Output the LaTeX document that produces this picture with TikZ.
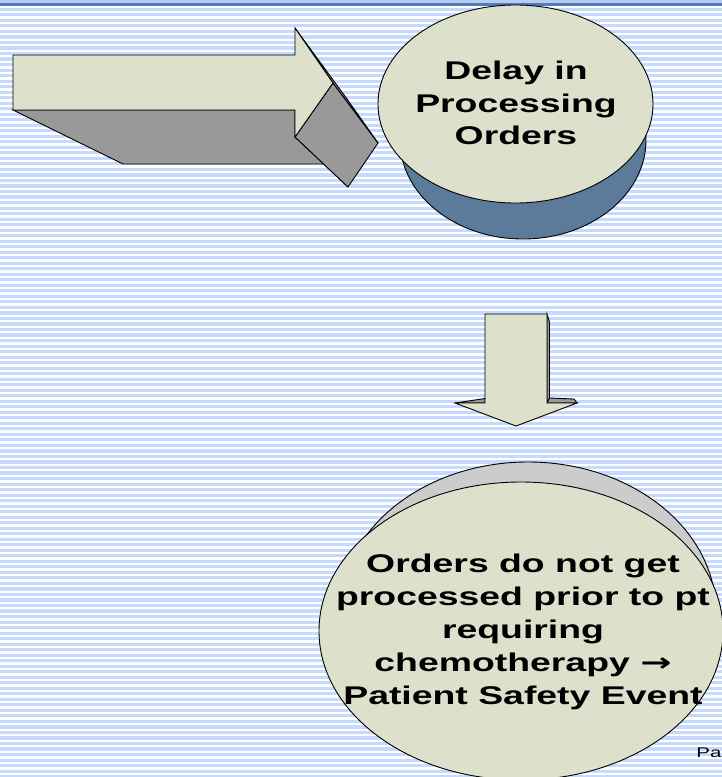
\documentclass[tikz,border=0pt]{standalone}
\usepackage{fontspec}
\setmainfont{Liberation Sans}
\newfontfamily\slidefont[FakeStretch=1.46]{Liberation Sans}
\newfontfamily\arrowfont[FakeStretch=1.46]{DejaVu Sans}
\newlength{\du}
\setlength{\du}{1\unitlength}
\begin{document}
\begin{tikzpicture}
\pgftransformxscale{1.000000}
\pgftransformyscale{-1.000000}
\useasboundingbox (0\du,0\du) rectangle (722\du,777\du);
\clip (0\du,0\du) rectangle (722\du,777\du);
% slide background
\definecolor{dialinecolor}{rgb}{1.000000, 1.000000, 1.000000}
\pgfsetfillcolor{dialinecolor}
\fill (0\du,0\du)--(0\du,777\du)--(722\du,777\du)--(722\du,0\du)--cycle;
\definecolor{dialinecolor}{rgb}{0.776471, 0.850980, 1.000000}
\pgfsetfillcolor{dialinecolor}
\foreach \n in {0,...,140}{
\fill (0\du,{(7.800000+\n*5.520000)*\du}) rectangle (722\du,{(10.900000+\n*5.520000)*\du});
}
\definecolor{dialinecolor}{rgb}{0.725490, 0.800000, 0.921569}
\pgfsetfillcolor{dialinecolor}
\fill (0\du,0\du)--(0\du,3.300000\du)--(722\du,3.300000\du)--(722\du,0\du)--cycle;
\definecolor{dialinecolor}{rgb}{0.309804, 0.486275, 0.756863}
\pgfsetfillcolor{dialinecolor}
\fill (0\du,3.300000\du)--(0\du,5.700000\du)--(722\du,5.700000\du)--(722\du,3.300000\du)--cycle;
% block arrow, back faces
\pgfsetlinewidth{0.900000\du}
\pgfsetdash{}{0pt}
\pgfsetmiterjoin
\definecolor{dialinecolor}{rgb}{0.000000, 0.000000, 0.000000}
\pgfsetstrokecolor{dialinecolor}
\definecolor{dialinecolor}{rgb}{0.600000, 0.600000, 0.600000}
\pgfsetfillcolor{dialinecolor}
\fill (13.000000\du,110.000000\du)--(295.000000\du,110.000000\du)--(347.000000\du,164.000000\du)--(123.000000\du,164.000000\du)--cycle;
\draw (13.000000\du,110.000000\du)--(295.000000\du,110.000000\du)--(347.000000\du,164.000000\du)--(123.000000\du,164.000000\du)--cycle;
\fill (295.000000\du,110.000000\du)--(295.000000\du,137.000000\du)--(347.000000\du,186.000000\du)--(347.000000\du,164.000000\du)--cycle;
\draw (295.000000\du,110.000000\du)--(295.000000\du,137.000000\du)--(347.000000\du,186.000000\du)--(347.000000\du,164.000000\du)--cycle;
\fill (295.000000\du,137.000000\du)--(333.000000\du,83.000000\du)--(378.000000\du,143.000000\du)--(348.000000\du,187.000000\du)--cycle;
\draw (295.000000\du,137.000000\du)--(333.000000\du,83.000000\du)--(378.000000\du,143.000000\du)--(348.000000\du,187.000000\du)--cycle;
\fill (295.000000\du,28.000000\du)--(333.000000\du,83.000000\du)--(378.000000\du,143.000000\du)--(347.000000\du,99.000000\du)--cycle;
\draw (295.000000\du,28.000000\du)--(333.000000\du,83.000000\du)--(378.000000\du,143.000000\du)--(347.000000\du,99.000000\du)--cycle;
% block arrow, front face
\definecolor{dialinecolor}{rgb}{0.866667, 0.878431, 0.796078}
\pgfsetfillcolor{dialinecolor}
\fill (13.000000\du,55.000000\du)--(295.000000\du,55.000000\du)--(295.000000\du,28.000000\du)--(333.000000\du,83.000000\du)--(295.000000\du,137.000000\du)--(295.000000\du,110.000000\du)--(13.000000\du,110.000000\du)--cycle;
\draw (13.000000\du,55.000000\du)--(295.000000\du,55.000000\du)--(295.000000\du,28.000000\du)--(333.000000\du,83.000000\du)--(295.000000\du,137.000000\du)--(295.000000\du,110.000000\du)--(13.000000\du,110.000000\du)--cycle;
% upper cylinder
\definecolor{dialinecolor}{rgb}{0.360784, 0.482353, 0.607843}
\pgfsetfillcolor{dialinecolor}
\pgfpathellipse{\pgfpoint{523.000000\du}{140.000000\du}}{\pgfpoint{123.000000\du}{0\du}}{\pgfpoint{0\du}{99.000000\du}}
\pgfusepath{fill,stroke}
\definecolor{dialinecolor}{rgb}{0.866667, 0.878431, 0.796078}
\pgfsetfillcolor{dialinecolor}
\pgfpathellipse{\pgfpoint{515.500000\du}{104.000000\du}}{\pgfpoint{137.500000\du}{0\du}}{\pgfpoint{0\du}{99.000000\du}}
\pgfusepath{fill,stroke}
% setfont left to latex
\definecolor{dialinecolor}{rgb}{0.000000, 0.000000, 0.000000}
\pgfsetstrokecolor{dialinecolor}
\node[align=center,inner sep=0pt,font=\slidefont\bfseries\fontsize{25.6}{32.7}\selectfont] (delaytext) at (516.000000\du,103.000000\du){Delay in\\Processing\\Orders};
% down arrow
\definecolor{dialinecolor}{rgb}{0.600000, 0.600000, 0.600000}
\pgfsetfillcolor{dialinecolor}
\fill (547.000000\du,314.000000\du)--(549.500000\du,322.000000\du)--(549.500000\du,398.000000\du)--(547.000000\du,403.000000\du)--cycle;
\draw (547.000000\du,314.000000\du)--(549.500000\du,322.000000\du)--(549.500000\du,398.000000\du)--(547.000000\du,403.000000\du)--cycle;
\fill (547.000000\du,403.000000\du)--(549.500000\du,398.000000\du)--(574.000000\du,399.000000\du)--(577.000000\du,403.000000\du)--cycle;
\draw (547.000000\du,403.000000\du)--(549.500000\du,398.000000\du)--(574.000000\du,399.000000\du)--(577.000000\du,403.000000\du)--cycle;
\fill (455.000000\du,403.000000\du)--(485.000000\du,398.500000\du)--(485.000000\du,403.000000\du)--cycle;
\draw (455.000000\du,403.000000\du)--(485.000000\du,398.500000\du)--(485.000000\du,403.000000\du)--cycle;
\definecolor{dialinecolor}{rgb}{0.866667, 0.878431, 0.796078}
\pgfsetfillcolor{dialinecolor}
\fill (485.000000\du,314.000000\du)--(547.000000\du,314.000000\du)--(547.000000\du,403.000000\du)--(577.000000\du,403.000000\du)--(516.000000\du,426.000000\du)--(455.000000\du,403.000000\du)--(485.000000\du,403.000000\du)--cycle;
\draw (485.000000\du,314.000000\du)--(547.000000\du,314.000000\du)--(547.000000\du,403.000000\du)--(577.000000\du,403.000000\du)--(516.000000\du,426.000000\du)--(455.000000\du,403.000000\du)--(485.000000\du,403.000000\du)--cycle;
% lower cylinder
\definecolor{dialinecolor}{rgb}{0.800000, 0.800000, 0.800000}
\pgfsetfillcolor{dialinecolor}
\pgfpathellipse{\pgfpoint{528.000000\du}{612.000000\du}}{\pgfpoint{188.000000\du}{0\du}}{\pgfpoint{0\du}{150.000000\du}}
\pgfusepath{fill,stroke}
\definecolor{dialinecolor}{rgb}{0.866667, 0.878431, 0.796078}
\pgfsetfillcolor{dialinecolor}
\pgfpathellipse{\pgfpoint{521.000000\du}{631.000000\du}}{\pgfpoint{202.000000\du}{0\du}}{\pgfpoint{0\du}{149.000000\du}}
\pgfusepath{fill,stroke}
% setfont left to latex
\definecolor{dialinecolor}{rgb}{0.000000, 0.000000, 0.000000}
\pgfsetstrokecolor{dialinecolor}
\node[align=center,inner sep=0pt,font=\slidefont\bfseries\fontsize{25.6}{33}\selectfont] (eventtext) at (523.000000\du,632.000000\du){Orders do not get\\processed prior to pt\\requiring\\chemotherapy {\arrowfont\bfseries →}\\Patient Safety Event};
\node[anchor=base west,inner sep=0pt,font=\slidefont\fontsize{14}{17}\selectfont] (pagetext) at (696.000000\du,757.000000\du){Pa};
\end{tikzpicture}
\end{document}
